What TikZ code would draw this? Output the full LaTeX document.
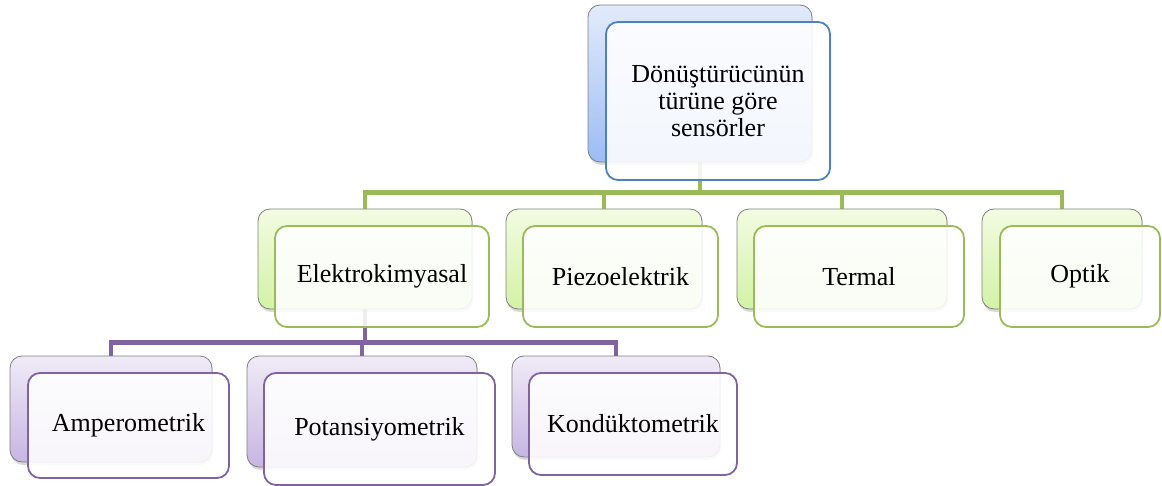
\documentclass[tikz,border=0pt]{standalone}
\usepackage{fontspec}
\setmainfont{Liberation Serif}
\usepackage{tikz}
\usetikzlibrary{shadows,backgrounds}

\definecolor{blueedge}{HTML}{4F81BD}
\definecolor{bluetop}{HTML}{E2EBFB}
\definecolor{bluebot}{HTML}{9CBCF4}
\definecolor{greenedge}{HTML}{9BBB59}
\definecolor{greentop}{HTML}{F3FBE2}
\definecolor{greenbot}{HTML}{D3F2A6}
\definecolor{purpleedge}{HTML}{8064A2}
\definecolor{purpletop}{HTML}{F0EBF7}
\definecolor{purplebot}{HTML}{C7B5E2}
\definecolor{backedge}{HTML}{7F7F7F}

\tikzset{
	back/.style={draw=backedge, line width=0.8pt, rounded corners=12pt, inner sep=0pt,
		drop shadow={shadow xshift=1pt, shadow yshift=-3pt, opacity=0.3}},
	front/.style={line width=1.8pt, rounded corners=12pt, inner sep=0pt, fill=white,
		fill opacity=0.88, text opacity=1, align=center,
		font=\fontsize{26}{27}\selectfont},
	rback/.style={back, top color=bluetop, bottom color=bluebot},
	gback/.style={back, top color=greentop, bottom color=greenbot},
	pback/.style={back, top color=purpletop, bottom color=purplebot},
	rfront/.style={front, draw=blueedge},
	gfront/.style={front, draw=greenedge},
	pfront/.style={front, draw=purpleedge},
	gline/.style={draw=greenedge, line width=4.5pt},
	pline/.style={draw=purpleedge, line width=4.5pt}
}

\begin{document}
\begin{tikzpicture}[x=1pt,y=-1pt]
	\useasboundingbox (0,0) rectangle (1162,486);

	% top level
	\node[rback, minimum width=224pt, minimum height=157pt] (rb) at (700,83.5) {};
	\node[rfront, minimum width=224pt, minimum height=158pt] (r) at (718,101) {Dönüştürücünün\\türüne göre\\sensörler};

	% second level
	\node[gback, minimum width=214pt, minimum height=100pt] (eb) at (365,259) {};
	\node[gfront, minimum width=214pt, minimum height=101pt] (e) at (382,276.5) {Elektrokimyasal};
	\node[gback, minimum width=196pt, minimum height=100pt] (zb) at (604,259) {};
	\node[gfront, minimum width=195pt, minimum height=101pt] (z) at (620.5,276.5) {Piezoelektrik};
	\node[gback, minimum width=210pt, minimum height=100pt] (tb) at (842,259) {};
	\node[gfront, minimum width=210pt, minimum height=101pt] (t) at (859,276.5) {Termal};
	\node[gback, minimum width=160pt, minimum height=100pt] (ob) at (1062,259) {};
	\node[gfront, minimum width=160pt, minimum height=101pt] (o) at (1080,276.5) {Optik};

	% third level
	\node[pback, minimum width=202pt, minimum height=106pt] (ab) at (111,409) {};
	\node[pfront, minimum width=201pt, minimum height=105pt] (a) at (128.5,425.5) {Amperometrik};
	\node[pback, minimum width=230pt, minimum height=111pt] (pb) at (362,411.5) {};
	\node[pfront, minimum width=231pt, minimum height=112pt] (p) at (379.5,429) {Potansiyometrik};
	\node[pback, minimum width=208pt, minimum height=101pt] (kb) at (616,406.5) {};
	\node[pfront, minimum width=208pt, minimum height=102pt] (k) at (633,424) {Kondüktometrik};

	\begin{scope}[on background layer]
		\path[gline] (rb.south) -- ++(0,30) -| (eb.north);
		\path[gline] (rb.south) -- ++(0,30) -| (zb.north);
		\path[gline] (rb.south) -- ++(0,30) -| (tb.north);
		\path[gline] (rb.south) -- ++(0,30) -| (ob.north);
		\path[pline] (eb.south) -- ++(0,33) -| (ab.north);
		\path[pline] (eb.south) -- ++(0,33) -| (pb.north);
		\path[pline] (eb.south) -- ++(0,33) -| (kb.north);
	\end{scope}
\end{tikzpicture}
\end{document}
